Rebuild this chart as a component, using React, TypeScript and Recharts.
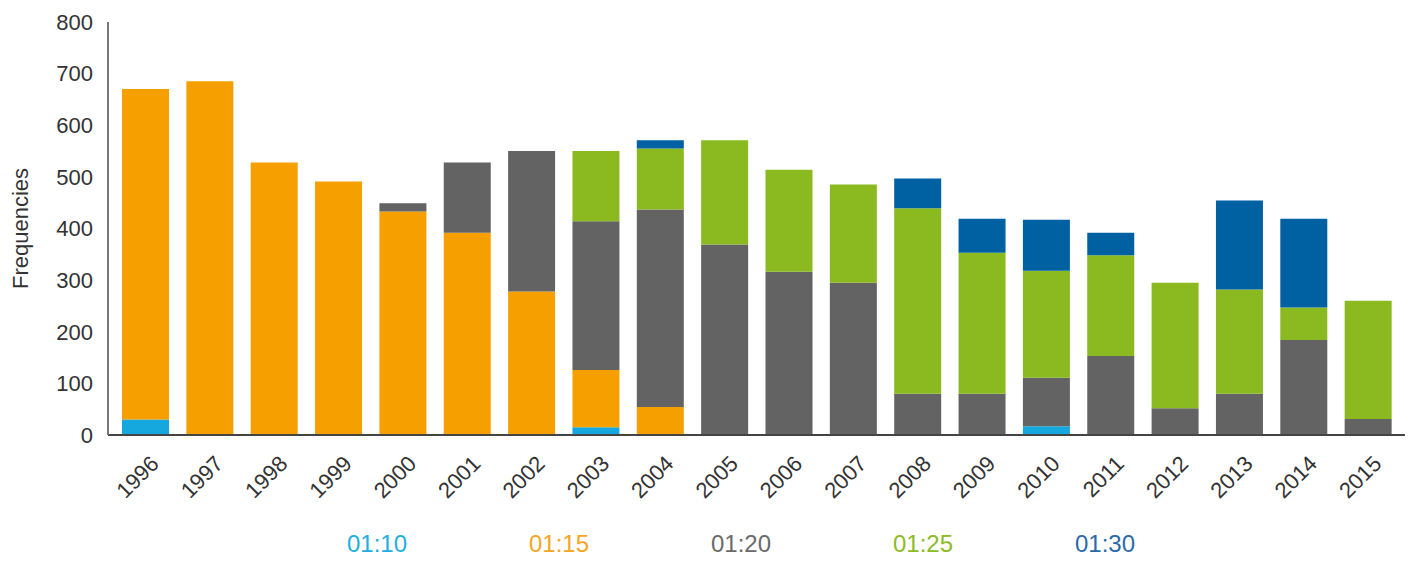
import React from 'react';
import { BarChart, Bar, XAxis, YAxis, Legend } from 'recharts';

const years = ['1996', '1997', '1998', '1999', '2000', '2001', '2002', '2003', '2004', '2005', '2006', '2007', '2008', '2009', '2010', '2011', '2012', '2013', '2014', '2015'];

const s0110 = [30, 0, 0, 0, 0, 0, 0, 15, 0, 0, 0, 0, 0, 0, 17, 0, 0, 0, 0, 0];
const s0115 = [640, 685, 528, 491, 433, 392, 278, 111, 54, 0, 0, 0, 0, 0, 0, 0, 0, 0, 0, 0];
const s0120 = [0, 0, 0, 0, 16, 136, 272, 288, 383, 369, 316, 295, 80, 80, 94, 153, 52, 80, 184, 31];
const s0125 = [0, 0, 0, 0, 0, 0, 0, 136, 118, 202, 198, 190, 359, 273, 207, 195, 243, 202, 63, 229];
const s0130 = [0, 0, 0, 0, 0, 0, 0, 0, 16, 0, 0, 0, 58, 66, 99, 44, 0, 172, 172, 0];

const yTicks = [0, 100, 200, 300, 400, 500, 600, 700, 800];

const series = [
  { key: '01:10', values: s0110, fill: '#14a8de', text: '#22aee0' },
  { key: '01:15', values: s0115, fill: '#f5a000', text: '#f5a623' },
  { key: '01:20', values: s0120, fill: '#636363', text: '#6a6a6a' },
  { key: '01:25', values: s0125, fill: '#8aba20', text: '#8cbb26' },
  { key: '01:30', values: s0130, fill: '#0061a2', text: '#2a6aa8' },
];

const data = years.map((year, i) => {
  const row: Record<string, string | number> = { year };
  series.forEach(s => {
    row[s.key] = s.values[i];
  });
  return row;
});

const FONT = 'Liberation Sans, Arial, Helvetica, sans-serif';

function YearTick(props: any) {
  const { x, y, payload } = props;
  return (
    <g transform={`translate(${x + 15},${y + 22})`}>
      <text
        x={0}
        y={0}
        textAnchor="end"
        transform="rotate(-45)"
        fill="#333"
        fontSize={22}
        fontFamily={FONT}
      >
        {payload.value}
      </text>
    </g>
  );
}

function YLabel(props: any) {
  const { viewBox } = props;
  const cy = viewBox.y + viewBox.height / 2;
  const cx = 20;
  return (
    <text
      x={cx}
      y={cy}
      textAnchor="middle"
      dominantBaseline="central"
      transform={`rotate(-90, ${cx}, ${cy})`}
      fill="#333"
      fontSize={22}
      fontFamily={FONT}
    >
      Frequencies
    </text>
  );
}

function TextLegend() {
  return (
    <div style={{ height: 48, paddingLeft: 286, display: 'flex', alignItems: 'center', boxSizing: 'border-box' }}>
      {series.map(s => (
        <div
          key={s.key}
          style={{ width: 182, textAlign: 'center', color: s.text, fontSize: 24, fontFamily: FONT }}
        >
          {s.key}
        </div>
      ))}
    </div>
  );
}

export default function App() {
  return (
    <div style={{ width: 1414, height: 568, background: '#fff' }}>
      <style>{'body{margin:0;background:#fff}'}</style>
      <BarChart
        width={1414}
        height={568}
        data={data}
        margin={{ top: 22, right: 9, bottom: 0, left: 0 }}
      >
        <XAxis
          dataKey="year"
          height={85}
          interval={0}
          tickLine={false}
          tick={<YearTick />}
          padding={{ left: 5, right: 5 }}
          axisLine={{ stroke: '#444', strokeWidth: 2 }}
        />
        <YAxis
          width={108}
          domain={[0, 800]}
          ticks={yTicks}
          interval={0}
          tickLine={false}
          tickSize={0}
          tickMargin={15}
          axisLine={{ stroke: '#777', strokeWidth: 2 }}
          tick={{ fill: '#333', fontSize: 22, fontFamily: FONT }}
          label={<YLabel />}
        />
        <Legend verticalAlign="bottom" content={<TextLegend />} />
        {series.map(s => (
          <Bar
            key={s.key}
            dataKey={s.key}
            stackId="a"
            fill={s.fill}
            barSize={47}
            isAnimationActive={false}
          />
        ))}
      </BarChart>
    </div>
  );
}
